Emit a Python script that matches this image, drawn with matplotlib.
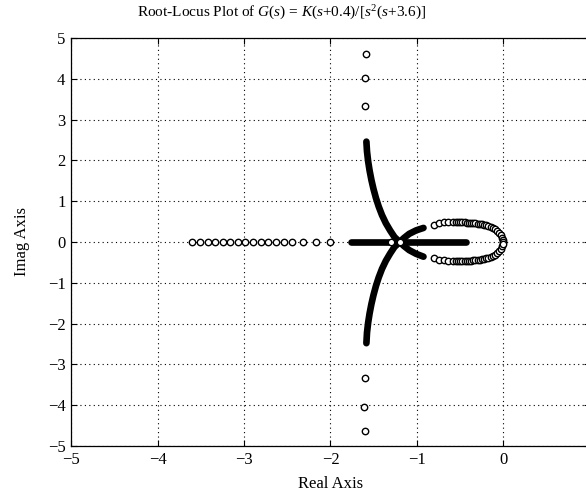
"""
Root-locus plot of G(s) = K(s+0.4)/[s^2(s+3.6)], points read off the scanned figure
"""
import numpy as np
import matplotlib
matplotlib.use('Agg')
import matplotlib.pyplot as plt

plt.rcParams['font.family'] = ['Liberation Serif', 'DejaVu Serif']
plt.rcParams['mathtext.fontset'] = 'custom'
plt.rcParams['mathtext.rm'] = 'Liberation Serif'
plt.rcParams['mathtext.it'] = 'Liberation Serif:italic'

# ---- open circles (sparse gain values) ----
left_re = [-3.60, -3.51, -3.42, -3.33, -3.245, -3.16, -3.07, -2.985, -2.897, -2.808,
           -2.72, -2.627, -2.538, -2.441, -2.314, -2.170, -2.005]
left_im = [0.0] * 17

asym_re = [-1.59, -1.60, -1.60, -1.60, -1.61, -1.60]
asym_im = [4.60, 4.03, 3.33, -3.33, -4.04, -4.63]

triple_re = [-1.30, -1.20]
triple_im = [0.0, 0.0]

loop_up_re = [-0.80, -0.745, -0.69, -0.637, -0.583, -0.55, -0.525, -0.50, -0.475, -0.45,
              -0.425, -0.40, -0.375, -0.35, -0.325, -0.30, -0.275, -0.25, -0.225, -0.20,
              -0.175, -0.15, -0.125, -0.10, -0.08, -0.055, -0.03, -0.012, -0.003, 0.0]
loop_up_im = [0.42, 0.465, 0.48, 0.49, 0.495, 0.490, 0.488, 0.485, 0.482, 0.478,
              0.474, 0.470, 0.465, 0.460, 0.454, 0.447, 0.440, 0.432, 0.420, 0.408,
              0.392, 0.372, 0.345, 0.31, 0.27, 0.22, 0.16, 0.10, 0.05, 0.0]
loop_dn_re = [-0.80, -0.745, -0.69, -0.637, -0.583, -0.55, -0.525, -0.50, -0.475, -0.45,
              -0.425, -0.40, -0.375, -0.35, -0.325, -0.30, -0.275, -0.25, -0.225, -0.20,
              -0.175, -0.15, -0.125, -0.10, -0.08, -0.055, -0.03, -0.012, -0.003]
loop_dn_im = [-0.40, -0.43, -0.45, -0.46, -0.47, -0.472, -0.472, -0.470, -0.468, -0.465,
              -0.462, -0.458, -0.454, -0.449, -0.444, -0.438, -0.431, -0.423, -0.413, -0.401,
              -0.386, -0.367, -0.342, -0.31, -0.27, -0.22, -0.16, -0.10, -0.05]

# ---- dense gain values (drawn as solid bands) ----
upper_re = [-1.585, -1.578, -1.565, -1.548, -1.527, -1.503, -1.475, -1.443, -1.405, -1.36, -1.31, -1.26, -1.20]
upper_im = [2.46, 2.22, 1.98, 1.75, 1.52, 1.30, 1.08, 0.87, 0.66, 0.46, 0.28, 0.12, 0.0]
lower_re = [-1.585, -1.578, -1.565, -1.548, -1.527, -1.503, -1.475, -1.443, -1.405, -1.36, -1.31, -1.26, -1.20]
lower_im = [-2.48, -2.22, -1.98, -1.75, -1.52, -1.30, -1.08, -0.87, -0.66, -0.46, -0.28, -0.12, 0.0]
real_re = [-1.76, -1.20, -0.43]
real_im = [0.0, 0.0, 0.0]
arm_up_re = [-1.20, -1.15, -1.09, -1.01, -0.925]
arm_up_im = [0.0, 0.10, 0.20, 0.285, 0.345]
arm_dn_re = [-1.20, -1.15, -1.09, -1.01, -0.925]
arm_dn_im = [0.0, -0.10, -0.20, -0.29, -0.36]

xtick_vals = [-5, -4, -3, -2, -1, 0, 1]
xtick_text = ['\u22125', '\u22124', '\u22123', '\u22122', '\u22121', '0', '']

fig = plt.figure(figsize=[5.86, 4.99], dpi=100, facecolor='white')
ax = fig.add_axes([71/586., 53/499., 519/586., 408/499.])

band = dict(color='k', linewidth=4.8, solid_capstyle='round', solid_joinstyle='round', zorder=3)
for xs, ys in [(upper_re, upper_im), (lower_re, lower_im), (real_re, real_im),
               (arm_up_re, arm_up_im), (arm_dn_re, arm_dn_im)]:
	ax.plot(xs, ys, '-', **band)

circ = dict(linestyle='none', marker='o', markersize=4.6, markerfacecolor='white',
            markeredgecolor='k', markeredgewidth=1.0, zorder=4)
for xs, ys in [(left_re, left_im), (asym_re, asym_im), (triple_re, triple_im),
               (loop_up_re, loop_up_im), (loop_dn_re, loop_dn_im)]:
	ax.plot(xs, ys, **circ)

ax.set_xlim([-5, 1]); ax.set_ylim([-5, 5])
ax.set_xticks(xtick_vals); ax.set_xticklabels(xtick_text)
ax.set_yticks(np.arange(-5, 5.01, 1))
ax.grid(True, linestyle=(0, (1, 3)), color='k', linewidth=0.8)
ax.tick_params(axis='both', which='major', direction='in', top=True, right=True,
               length=4, width=0.8, labelsize=12, pad=4)
for sp in ax.spines.values():
	sp.set_linewidth(0.9)

ax.set_xlabel('Real Axis', fontsize=12, labelpad=6)
ax.set_ylabel('Imag Axis', fontsize=12, labelpad=13)
ax.set_title(r'Root-Locus Plot of $G$($s$) = $K$($s$+0.4)/[$s^2$($s$+3.6)]',
             fontsize=11, x=0.405, pad=15)

plt.savefig('out.png', dpi=100, facecolor='white')
